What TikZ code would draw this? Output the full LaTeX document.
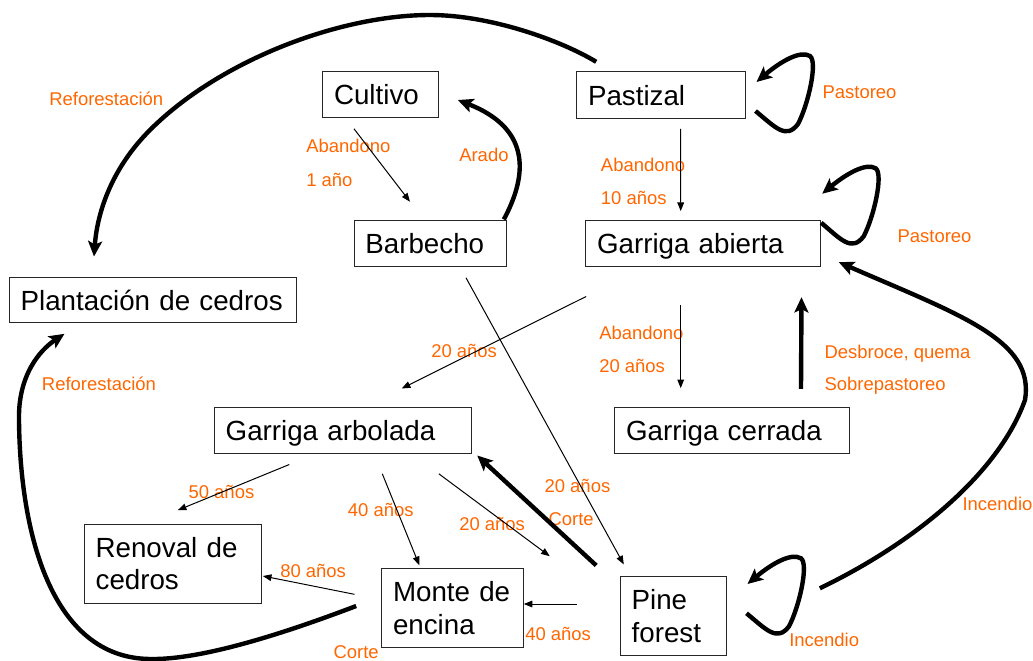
\documentclass[tikz,border=0pt]{standalone}
\usepackage{fontspec}
\setmainfont{Liberation Sans}
\usetikzlibrary{arrows.meta,calc}
\definecolor{lab}{RGB}{255,102,0}
\begin{document}
\begin{tikzpicture}[x=0.75pt,y=-0.75pt,
  box/.style={draw=black!85, line width=0.75pt, inner xsep=8.5pt, inner ysep=0pt, align=left, font=\fontsize{20.8}{24.5}\selectfont, text=black},
  single/.style={box, text depth=0pt},
  lbl/.style={text=lab, font=\fontsize{13.85}{16}\selectfont, inner sep=0pt, anchor=base west},
  lite/.style={line width=0.75pt, -{Triangle[length=6.5pt,width=5pt]}},
  heavy/.style={line width=3.3pt, -{Stealth[length=11.5pt,width=10.5pt,inset=2.5pt]}},
]
\useasboundingbox (0,0) rectangle (1033,661);

% boxes
\node[single, text width=69.7pt, minimum height=34.2pt] (cultivo) at (380.5,94.5) {Cultivo};
\node[single, text width=109.75pt, minimum height=34.95pt] (pastizal) at (661.2,95) {Pastizal};
\node[single, text width=158.95pt, minimum height=34.3pt] (gabierta) at (703,243.8) {Garriga abierta};
\node[single, text width=97.2pt, minimum height=34.3pt] (barbecho) at (430.2,243.8) {Barbecho};
\node[single, text width=198.55pt, minimum height=34.05pt] (plantacion) at (153,300) {Plantación de cedros};
\node[single, text width=175.5pt, minimum height=34.2pt] (garbolada) at (342.7,430.5) {Garriga arbolada};
\node[single, text width=158.95pt, minimum height=34.7pt] (gcerrada) at (732,430.8) {Garriga cerrada};
\node[box, text width=115.75pt, minimum height=59.5pt] (renoval) at (172.8,563.7) {Renoval de\\cedros};
\node[box, text width=89.7pt, minimum height=59.55pt] (monte) at (452.8,608) {Monte de\\encina};
\node[box, text width=62.5pt, minimum height=59.5pt] (pine) at (673.3,616.3) {Pine\\forest};

% labels
\node[lbl] (l1) at (49,105) {Reforestación};
\node[lbl] (l2) at (306,152.7) {Abandono};
\node[lbl] (l3) at (306,186) {1 año};
\node[lbl] (l4) at (459,161.7) {Arado};
\node[lbl] (l5) at (822.3,98.3) {Pastoreo};
\node[lbl] (l6) at (600.7,171.7) {Abandono};
\node[lbl] (l7) at (600.7,204) {10 años};
\node[lbl] (l8) at (897.3,242.3) {Pastoreo};
\node[lbl] (l9) at (599,339) {Abandono};
\node[lbl] (l10) at (599,372.7) {20 años};
\node[lbl] (l11) at (431,357.7) {20 años};
\node[lbl] (l12) at (824.3,358.3) {Desbroce, quema};
\node[lbl] (l13) at (824.3,390.5) {Sobrepastoreo};
\node[lbl] (l14) at (41.7,390) {Reforestación};
\node[lbl] (l15) at (188.3,498.3) {50 años};
\node[lbl] (l16) at (347.7,516.7) {40 años};
\node[lbl] (l17) at (459,530) {20 años};
\node[lbl] (l18) at (544.3,492.3) {20 años};
\node[lbl] (l19) at (548.3,525) {Corte};
\node[lbl] (l20) at (280,577.3) {80 años};
\node[lbl] (l21) at (525,640) {40 años};
\node[lbl] (l22) at (333.3,658.3) {Corte};
\node[lbl] (l23) at (962.3,510.7) {Incendio};
\node[lbl] (l24) at (789,646.7) {Incendio};

% thin arrows
\draw[lite] ($(cultivo.south)+(-26.5,11)$) -- ($(barbecho.north)+(-20.2,-18.7)$);
\draw[lite] ($(pastizal.south)+(19.5,10)$) -- ($(gabierta.north)+(-22.3,-9.3)$);
\draw[lite] ($(gabierta.south)+(-22.3,38.3)$) -- ($(gcerrada.north)+(-51.3,-19)$);
\draw[lite] ($(gabierta.south west)+(1,29.3)$) -- ($(garbolada.north)+(59,-18.7)$);
\draw[lite] ($(barbecho.south)+(35.8,10.6)$) -- ($(pine.north west)+(4,-11.7)$);
\draw[lite] ($(garbolada.south)+(-53.4,10.7)$) -- ($(renoval.north)+(4.9,-13.3)$);
\draw[lite] ($(garbolada.south)+(39.6,20)$) -- ($(monte.north)+(-33.5,-2.6)$);
\draw[lite] ($(garbolada.south east)+(-32.7,20)$) -- ($(monte.north east)+(25.3,-11.6)$);
\draw[lite] ($(monte.west)+(-26.7,-13.7)$) -- ($(renoval.east)+(1,12.3)$);
\draw[lite] ($(pine.west)+(-42.6,-12.3)$) -- ($(monte.east)+(-0.7,-4)$);

% thick arrows
\draw[heavy] ($(pastizal.north west)+(20,-9.4)$) .. controls (560,40) and (490,15) .. (430,15)
  .. controls (340,15) and (220,60) .. (150,130)
  .. controls (110,170) and (97,215) .. ($(plantacion.north)+(-59,-20.3)$);
\draw[heavy] ($(barbecho.north east)+(-3,-1)$) .. controls (525,180) and (535,130) .. ($(cultivo.east)+(19,5.5)$);
\draw[heavy] ($(pastizal.east)+(9.3,16)$) .. controls (775,127) and (786,140) .. (798,124)
  .. controls (808,105) and (818,62) .. (810,56)
  .. controls (800,50) and (780,62) .. ($(pastizal.east)+(10.3,-13)$);
\draw[heavy] ($(gabierta.north east)+(0.4,2.3)$) .. controls (840.7,239.3) and (851.7,252.3) .. (863.7,236.3)
  .. controls (873.7,217.3) and (883.7,174.3) .. (875.7,168.3)
  .. controls (865.7,162.3) and (845.7,174.3) .. ($(gabierta.north east)+(1.4,-26.7)$);
\draw[heavy] ($(gcerrada.north)+(69,-18.4)$) -- ($(gabierta.south east)+(-19.3,30)$);
\draw[heavy] ($(pine.east)+(93,-28)$) .. controls (920,540) and (1000,470) .. (1025,400)
  .. controls (1035,340) and (960,315) .. ($(gabierta.south east)+(18,-5)$);
\draw[heavy] ($(pine.east)+(19.7,-3)$) .. controls (766,629.3) and (777,642.3) .. (789,626.3)
  .. controls (799,607.3) and (809,564.3) .. (801,558.3)
  .. controls (791,552.3) and (771,564.3) .. ($(pine.east)+(20.7,-32.3)$);
\draw[heavy] ($(pine.north west)+(-23.6,-10.7)$) -- ($(garbolada.south east)+(5.7,1.7)$);
\draw[heavy] ($(monte.west)+(-25,-2)$) .. controls (280,635) and (200,660) .. (150,659)
  .. controls (50,658) and (20,530) .. (19,420)
  .. controls (18,375) and (40,350) .. ($(plantacion.south west)+(55.7,10.6)$);
\end{tikzpicture}
\end{document}
